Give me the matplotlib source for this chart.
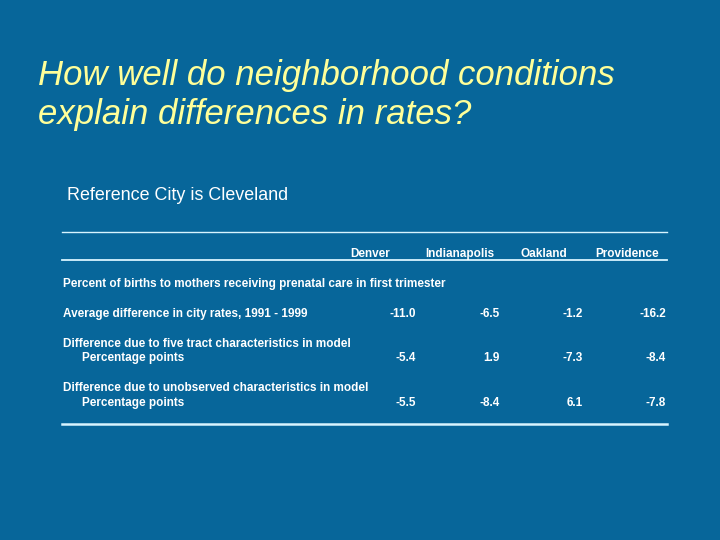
import matplotlib
matplotlib.use("Agg")
import matplotlib.pyplot as plt

plt.rcParams['font.family'] = ['Liberation Sans', 'DejaVu Sans']

title_lines = ["How well do neighborhood conditions", "explain differences in rates?"]
subtitle = "Reference City is Cleveland"
cities = ["Denver", "Indianapolis", "Oakland", "Providence"]
section = "Percent of births to mothers receiving prenatal care in first trimester"
avg_label = "Average difference in city rates, 1991 - 1999"
avg_diff = [-11.0, -6.5, -1.2, -16.2]
tract_label = "Difference due to five tract characteristics in model"
tract_diff = [-5.4, 1.9, -7.3, -8.4]
unobs_label = "Difference due to unobserved characteristics in model"
unobs_diff = [-5.5, -8.4, 6.1, -7.8]
sub_label = "Percentage points"

bg = "#07669A"
line_col = "#D8F4FF"

fig = plt.figure(figsize=(7.2, 5.4), dpi=100, facecolor=bg)
ax = fig.add_axes([0, 0, 1, 1])
ax.set_xlim(0, 720)
ax.set_ylim(540, 0)
ax.axis("off")
ax.set_facecolor(bg)

for line, y in zip(title_lines, [85, 124]):
    ax.text(38, y, line, color="#FFFF99", fontsize=25, style="italic",
            va="baseline", ha="left")
ax.text(67, 200, subtitle, color="white", fontsize=12.9, va="baseline")

# table rules
ax.plot([62, 667], [232, 232], color=line_col, lw=1.0)
ax.plot([62, 667], [260, 260], color=line_col, lw=1.3)
ax.plot([62, 667], [424, 424], color=line_col, lw=1.8)

head_x = [370, 460, 544, 627]
num_x = [416, 500, 583, 666]
fs = 8.5
for c, x in zip(cities, head_x):
    ax.text(x, 257, c, color="white", fontsize=fs, weight="bold", ha="center", va="baseline")

ax.text(63, 287, section, color="white", fontsize=fs, weight="bold", va="baseline")
ax.text(63, 317, avg_label, color="white", fontsize=fs, weight="bold", va="baseline")
ax.text(63, 347, tract_label, color="white", fontsize=fs, weight="bold", va="baseline")
ax.text(82, 361, sub_label, color="white", fontsize=fs, weight="bold", va="baseline")
ax.text(63, 391, unobs_label, color="white", fontsize=fs, weight="bold", va="baseline")
ax.text(82, 406, sub_label, color="white", fontsize=fs, weight="bold", va="baseline")

for vals, y in [(avg_diff, 317), (tract_diff, 361), (unobs_diff, 406)]:
    for v, x in zip(vals, num_x):
        ax.text(x, y, f"{v:.1f}", color="white", fontsize=fs, weight="bold",
                ha="right", va="baseline")

fig.savefig("out.png", dpi=100, facecolor=bg)
